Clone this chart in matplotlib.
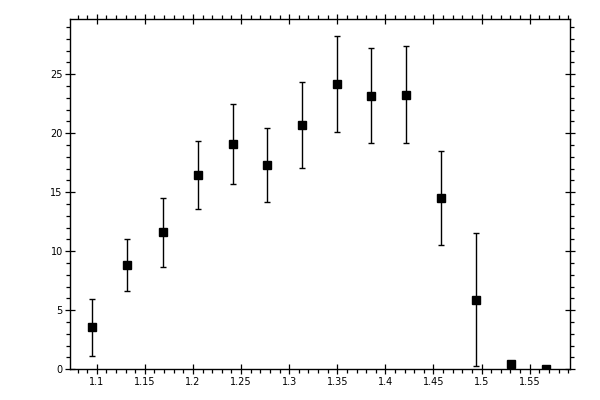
import matplotlib
matplotlib.use("Agg")
import matplotlib.pyplot as plt
import numpy as np
from matplotlib.ticker import MultipleLocator, FuncFormatter

x = [1.0954, 1.1318, 1.1686, 1.2048, 1.2413, 1.2771, 1.3136, 1.3499,
     1.3850, 1.4214, 1.4579, 1.4944, 1.5308, 1.5670]
y = [3.56, 8.81, 11.61, 16.44, 19.07, 17.29, 20.68, 24.15,
     23.14, 23.22, 14.49, 5.85, 0.42, 0.0]
y_hi = [5.93, 11.02, 14.54, 19.37, 22.46, 20.42, 24.32, 28.22,
        27.20, 27.37, 18.53, 11.53, 0.42, 0.0]
y_lo = [1.13, 6.64, 8.64, 13.56, 15.70, 14.20, 17.03, 20.08,
        19.15, 19.15, 10.51, 0.28, 0.42, 0.0]

y_arr = np.array(y)
err = [y_arr - np.array(y_lo), np.array(y_hi) - y_arr]

fig = plt.figure(figsize=(6, 4), dpi=100)
ax = fig.add_axes([70/600, 1 - 369.3/400, 500/600, 350/400])

ax.errorbar(x, y, yerr=err, fmt='s', color='black', ms=5.2,
            elinewidth=1.0, capsize=2.0, capthick=1.0, mec='black', mfc='black')

ax.set_xlim(1.0722, 1.5919)
ax.set_ylim(0, 29.66)

ax.xaxis.set_major_locator(MultipleLocator(0.05))
ax.xaxis.set_minor_locator(MultipleLocator(0.01))
ax.yaxis.set_major_locator(MultipleLocator(5))
ax.yaxis.set_minor_locator(MultipleLocator(1))
ax.xaxis.set_major_formatter(FuncFormatter(lambda v, p: ('%.2f' % v).rstrip('0').rstrip('.') if abs(v) > 1e-9 else '0'))
ax.yaxis.set_major_formatter(FuncFormatter(lambda v, p: '%d' % round(v)))

ax.tick_params(which='major', direction='inout', length=6.5, width=0.9,
               top=True, right=True, labelsize=7, pad=2)
ax.tick_params(which='minor', direction='out', length=3, width=0.9,
               top=True, right=True)

for s in ax.spines.values():
    s.set_linewidth(1.0)

fig.savefig('out.png', dpi=100)
